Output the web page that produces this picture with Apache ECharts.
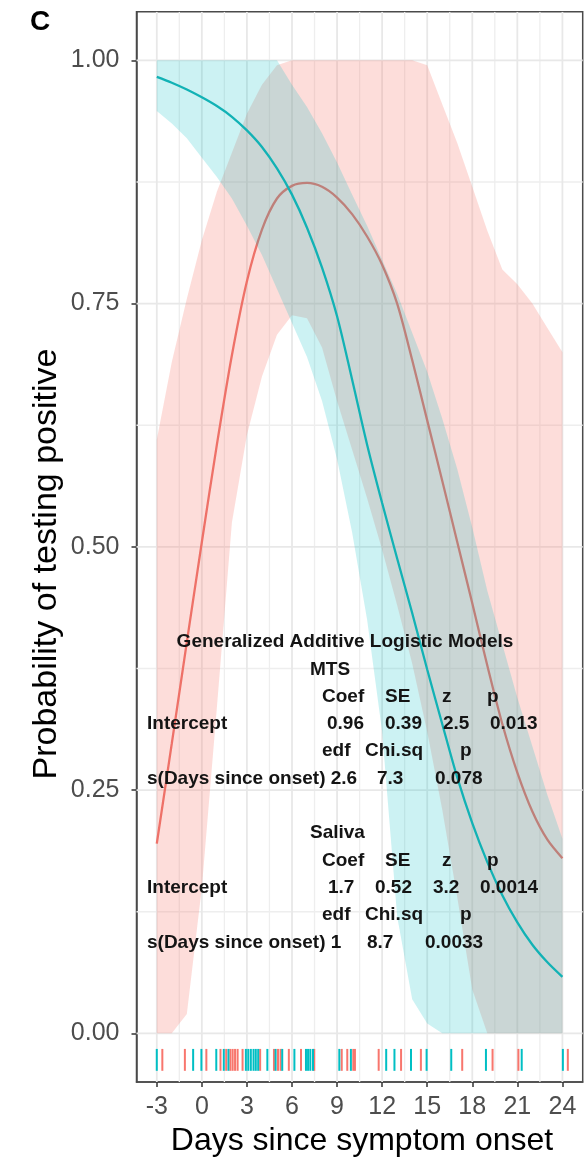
<!DOCTYPE html>
<html>
<head>
<meta charset="utf-8">
<script src="https://cdn.jsdelivr.net/npm/echarts@6/dist/echarts.min.js"></script>
<style>
  html, body { margin: 0; padding: 0; background: #ffffff; }
  #chart { width: 588px; height: 1160px; }
</style>
</head>
<body>
<div id="chart"></div>
<script>
// Days since symptom onset at which the fitted curves are evaluated
const days = [-3, -2, -1, 0, 1, 2, 3, 4, 5, 6, 7, 8, 9, 10, 11, 12, 13, 14, 15, 16, 17, 18, 19, 20, 21, 22, 23, 24];

// MTS: fitted probability and 95% band
const mtsFit   = [0.195, 0.298, 0.402, 0.505, 0.605, 0.697, 0.773, 0.826, 0.858, 0.871, 0.874, 0.870, 0.859, 0.842, 0.819, 0.790, 0.750, 0.692, 0.630, 0.568, 0.505, 0.442, 0.378, 0.318, 0.268, 0.228, 0.199, 0.180];
const mtsLower = [0.000, 0.000, 0.020, 0.150, 0.335, 0.525, 0.615, 0.675, 0.718, 0.738, 0.735, 0.705, 0.650, 0.600, 0.550, 0.497, 0.440, 0.380, 0.310, 0.230, 0.140, 0.045, 0.000, 0.000, 0.000, 0.000, 0.000, 0.000];
const mtsUpper = [0.610, 0.690, 0.755, 0.815, 0.865, 0.905, 0.945, 0.975, 0.995, 1.000, 1.000, 1.000, 1.000, 1.000, 1.000, 1.000, 1.000, 1.000, 0.995, 0.955, 0.915, 0.870, 0.825, 0.785, 0.770, 0.750, 0.725, 0.700];

// Saliva: fitted probability and 95% band
const salivaFit   = [0.983, 0.977, 0.970, 0.962, 0.953, 0.942, 0.928, 0.911, 0.889, 0.862, 0.828, 0.787, 0.737, 0.672, 0.605, 0.545, 0.488, 0.432, 0.374, 0.318, 0.263, 0.216, 0.176, 0.142, 0.114, 0.091, 0.073, 0.058];
const salivaLower = [0.948, 0.935, 0.920, 0.900, 0.880, 0.858, 0.830, 0.800, 0.765, 0.730, 0.695, 0.650, 0.590, 0.515, 0.425, 0.310, 0.120, 0.035, 0.010, 0.000, 0.000, 0.000, 0.000, 0.000, 0.000, 0.000, 0.000, 0.000];
const salivaUpper = [1.000, 1.000, 1.000, 1.000, 1.000, 1.000, 1.000, 1.000, 1.000, 0.975, 0.952, 0.925, 0.895, 0.862, 0.830, 0.795, 0.760, 0.720, 0.680, 0.632, 0.580, 0.520, 0.455, 0.400, 0.345, 0.295, 0.245, 0.200];

// Sampling days of individual tests (rug)
const mtsRug    = [-2.63, -1.13, 0.30, 1.24, 1.62, 1.90, 2.05, 2.21, 2.38, 2.71, 3.88, 4.80, 5.07, 5.24, 5.79, 6.60, 7.48, 9.31, 9.68, 10.08, 10.19, 11.77, 13.26, 14.58, 17.33, 19.35, 21.07, 24.36];
const salivaRug = [-3.00, -0.58, -0.03, 0.96, 1.46, 1.77, 2.93, 3.09, 3.26, 3.44, 3.59, 3.75, 4.36, 4.91, 5.35, 6.16, 6.93, 7.07, 7.22, 7.40, 9.15, 9.92, 12.27, 12.82, 13.92, 14.96, 16.60, 18.91, 21.29, 24.03];

// Axis ticks and grid lines
const xTicks = [-3, 0, 3, 6, 9, 12, 15, 18, 21, 24];
const xMinor = [-1.5, 1.5, 4.5, 7.5, 10.5, 13.5, 16.5, 19.5, 22.5];
const yTicks = [0, 0.25, 0.5, 0.75, 1];
const yMinor = [0.125, 0.375, 0.625, 0.875];

// Model summary text
const tableTitle = 'Generalized Additive Logistic Models';
const groupNames = ['MTS', 'Saliva'];
const coefHeader = ['Coef', 'SE', 'z', 'p'];
const smoothHeader = ['edf', 'Chi.sq', 'p'];
const interceptLabel = 'Intercept';
const smoothLabel = 's(Days since onset)';
const mtsIntercept = ['0.96', '0.39', '2.5', '0.013'];
const mtsSmooth = ['2.6', '7.3', '0.078'];
const salivaIntercept = ['1.7', '0.52', '3.2', '0.0014'];
const salivaSmooth = ['1', '8.7', '0.0033'];

const xTitle = 'Days since symptom onset';
const yTitle = 'Probability of testing positive';
const panelTag = 'C';

// ---- layout ----
const X_MIN = -4.35, X_MAX = 25.35, Y_MIN = -0.05, Y_MAX = 1.05;
const RED = '#F8766D', TEAL = '#00BFC4';
const RED_LINE = '#EE7168', TEAL_LINE = '#12B2B5';
const FONT = '"Liberation Sans", Arial, Helvetica, sans-serif';
const FRAME = '#4a4a4a';

const chart = echarts.init(document.getElementById('chart'), null, { renderer: 'canvas' });

function gridLineSeries(values, vertical, color, width) {
  return {
    type: 'custom', silent: true, z: 1, clip: true,
    data: values.map(v => [vertical ? v : 0, vertical ? 0 : v]),
    renderItem: (params, api) => {
      const v = api.value(vertical ? 0 : 1);
      const a = vertical ? api.coord([v, Y_MIN]) : api.coord([X_MIN, v]);
      const b = vertical ? api.coord([v, Y_MAX]) : api.coord([X_MAX, v]);
      return { type: 'line', shape: { x1: a[0], y1: a[1], x2: b[0], y2: b[1] },
               style: { stroke: color, lineWidth: width } };
    }
  };
}

function bandSeries(lower, upper, fill, z) {
  return {
    type: 'custom', silent: true, z: z,
    data: [[days[0], lower[0]]],
    renderItem: (params, api) => {
      const pts = [];
      for (let i = 0; i < days.length; i++) pts.push(api.coord([days[i], upper[i]]));
      for (let i = days.length - 1; i >= 0; i--) pts.push(api.coord([days[i], lower[i]]));
      return { type: 'polygon', shape: { points: pts }, style: { fill: fill } };
    }
  };
}

function fitSeries(values, color, z) {
  return {
    type: 'line', silent: true, z: z, showSymbol: false, smooth: 0.3,
    data: days.map((d, i) => [d, values[i]]),
    lineStyle: { color: color, width: 2.3 }
  };
}

function rugSeries(values, color) {
  return {
    type: 'custom', silent: true, z: 6,
    data: values.map(v => [v, 0]),
    renderItem: (params, api) => {
      const x = api.value(0);
      const a = api.coord([x, -0.016]);
      const b = api.coord([x, -0.0385]);
      return { type: 'line', shape: { x1: a[0], y1: a[1], x2: b[0], y2: b[1] },
               style: { stroke: color, lineWidth: 2 } };
    }
  };
}

// summary table as text rows
const ROW0 = 642, ROWH = 27.3, LABEL_X = 147;
const coefCols = [322, 385, 442, 487];
const smoothCols = [322, 365, 460];
const valueCols = {
  mtsIntercept: [327, 385, 443, 490],
  mtsSmooth: [377, 435],
  salivaIntercept: [328, 375, 433, 480],
  salivaSmooth: [367, 425]
};
const textEls = [];
function addText(str, x, row, align) {
  textEls.push({
    type: 'text', z: 100, x: x, y: ROW0 + ROWH * row,
    style: { text: str, fill: '#141414', font: 'bold 19px ' + FONT,
             textAlign: align || 'left', textVerticalAlign: 'middle' }
  });
}
addText(tableTitle, 345, 0, 'center');
[0, 1].forEach(g => {
  const base = g === 0 ? 1 : 7;
  const inter = g === 0 ? mtsIntercept : salivaIntercept;
  const smooth = g === 0 ? mtsSmooth : salivaSmooth;
  const iCols = g === 0 ? valueCols.mtsIntercept : valueCols.salivaIntercept;
  const sCols = g === 0 ? valueCols.mtsSmooth : valueCols.salivaSmooth;
  addText(groupNames[g], 310, base);
  coefHeader.forEach((h, i) => addText(h, coefCols[i], base + 1));
  addText(interceptLabel, LABEL_X, base + 2);
  inter.forEach((v, i) => addText(v, iCols[i], base + 2));
  smoothHeader.forEach((h, i) => addText(h, smoothCols[i], base + 3));
  addText(smoothLabel + ' ' + smooth[0], LABEL_X, base + 4);
  addText(smooth[1], sCols[0], base + 4);
  addText(smooth[2], sCols[1], base + 4);
});

textEls.push({
  type: 'text', x: 30, y: 22,
  style: { text: panelTag, fill: '#000', font: 'bold 28px ' + FONT, textAlign: 'left', textVerticalAlign: 'middle' }
});
textEls.push({
  type: 'text', x: 362, y: 1141,
  style: { text: xTitle, fill: '#000', font: '32px ' + FONT, textAlign: 'center', textVerticalAlign: 'middle' }
});
textEls.push({
  type: 'text', x: 47, y: 564, rotation: Math.PI / 2,
  style: { text: yTitle, fill: '#000', font: '34px ' + FONT, textAlign: 'center', textVerticalAlign: 'middle' }
});

const option = {
  backgroundColor: '#ffffff',
  animation: false,
  grid: {
    left: 136.5, right: 5.3, top: 11.7, bottom: 78,
    show: true, borderColor: FRAME, borderWidth: 1.5, backgroundColor: 'transparent'
  },
  xAxis: {
    type: 'value', min: X_MIN, max: X_MAX, position: 'bottom',
    axisLine: { show: true, onZero: false, lineStyle: { color: FRAME, width: 1.5 } },
    splitLine: { show: false },
    axisTick: { show: true, inside: false, customValues: xTicks, length: 5, lineStyle: { color: '#333', width: 1.5 } },
    axisLabel: { show: true, customValues: xTicks, margin: 13, color: '#4d4d4d', fontSize: 25, fontFamily: FONT }
  },
  yAxis: {
    type: 'value', min: Y_MIN, max: Y_MAX, position: 'left',
    axisLine: { show: true, onZero: false, lineStyle: { color: FRAME, width: 1.5 } },
    splitLine: { show: false },
    axisTick: { show: true, inside: false, customValues: yTicks, length: 5, lineStyle: { color: '#333', width: 1.5 } },
    axisLabel: { show: true, customValues: yTicks, margin: 17, color: '#4d4d4d', fontSize: 25, fontFamily: FONT,
                 formatter: v => v.toFixed(2) }
  },
  series: [
    gridLineSeries(xMinor, true, '#EEEEEE', 1.3),
    gridLineSeries(yMinor, false, '#EEEEEE', 1.3),
    gridLineSeries(xTicks, true, '#E8E8E8', 1.8),
    gridLineSeries(yTicks, false, '#E8E8E8', 1.8),
    bandSeries(mtsLower, mtsUpper, 'rgba(248,118,109,0.25)', 2),
    fitSeries(mtsFit, RED_LINE, 3),
    bandSeries(salivaLower, salivaUpper, 'rgba(0,191,196,0.2)', 4),
    fitSeries(salivaFit, TEAL_LINE, 5),
    rugSeries(mtsRug, RED),
    rugSeries(salivaRug, TEAL)
  ],
  graphic: textEls
};

chart.setOption(option);
</script>
</body>
</html>
